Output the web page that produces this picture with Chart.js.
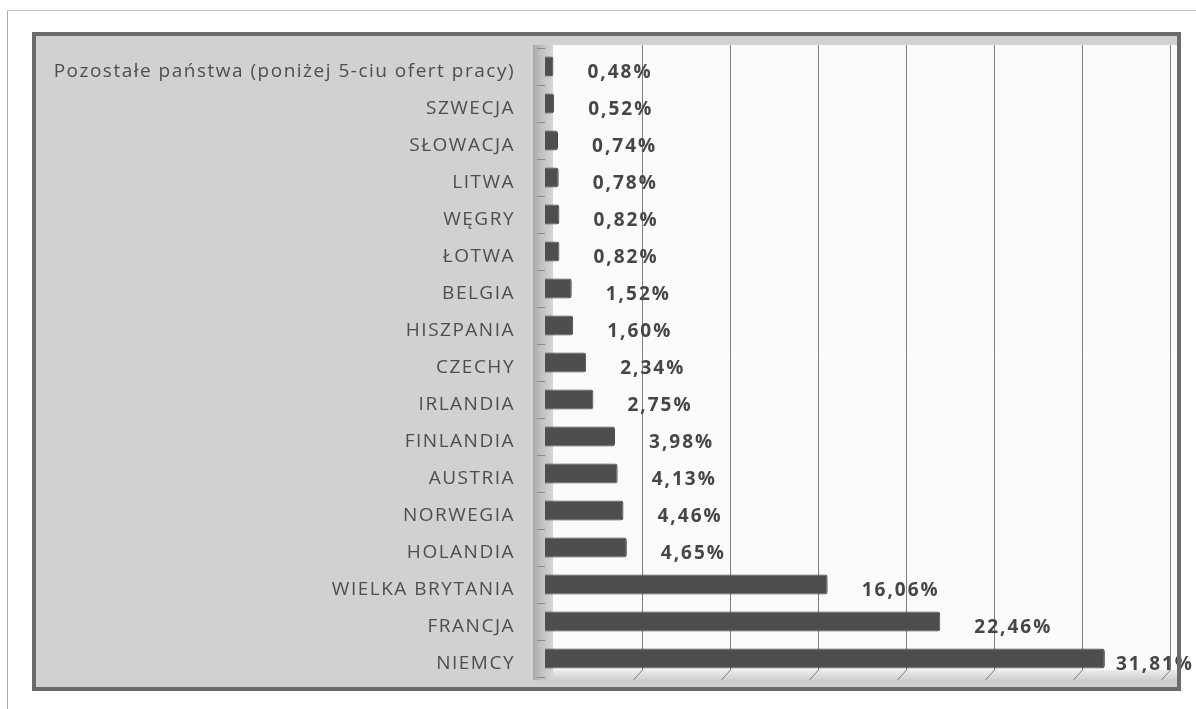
<!DOCTYPE html>
<html>
<head>
<meta charset="utf-8">
<script src="https://cdn.jsdelivr.net/npm/chart.js@4"></script>
<style>
    body { margin: 0; background: #fff; width: 1196px; height: 709px; overflow: hidden; position: relative; }
    #vline { position: absolute; left: 7px; top: 10px; width: 1px; height: 699px; background: #a8a8a8; }
    #hline { position: absolute; left: 7px; top: 10px; width: 1189px; height: 1px; background: #c4c4c4; }
    #wrap { position: absolute; left: 36px; top: 36px; width: 1160px; height: 651px; }
    #frame { position: absolute; left: 32px; top: 32px; width: 1141px; height: 651px; border: 4px solid #6b6b6b; pointer-events: none; }
</style>
</head>
<body>
<div id="vline"></div>
<div id="hline"></div>
<div id="wrap"><canvas id="chart"></canvas></div>
<div id="frame"></div>
<script>
// Data (top to bottom as in the picture)
const countries = [
    "Pozostałe państwa (poniżej 5-ciu ofert pracy)", "SZWECJA", "SŁOWACJA", "LITWA", "WĘGRY",
    "ŁOTWA", "BELGIA", "HISZPANIA", "CZECHY", "IRLANDIA", "FINLANDIA", "AUSTRIA",
    "NORWEGIA", "HOLANDIA", "WIELKA BRYTANIA", "FRANCJA", "NIEMCY"
];
const shares = [0.48, 0.52, 0.74, 0.78, 0.82, 0.82, 1.52, 1.60, 2.34, 2.75, 3.98, 4.13, 4.46, 4.65, 16.06, 22.46, 31.81];
const gridTicks = [5, 10, 15, 20, 25, 30, 35];

const FRAME_W = 1141; // inner width of the dark frame
const DEPTH = 9;      // fake 3D depth of the back wall

const fmt = v => v.toFixed(2).replace(".", ",") + "%";

// grey panel, white plot wall, floor, side wall and grid
const backdrop = {
    id: "backdrop",
    beforeDraw(c) {
        const ctx = c.ctx, xs = c.scales.x, a = c.chartArea;
        const top = a.top - 3, floor = a.bottom - 7;
        ctx.save();
        ctx.fillStyle = "#d1d1d1";
        ctx.fillRect(0, 0, FRAME_W, c.height);
        // white back wall
        ctx.fillStyle = "#fbfbfb";
        ctx.fillRect(a.left + 3, top, FRAME_W - a.left - 3, floor - top);
        // floor
        let g = ctx.createLinearGradient(0, floor, 0, floor + 12);
        g.addColorStop(0, "#ececec");
        g.addColorStop(1, "#c9c9c9");
        ctx.fillStyle = g;
        ctx.fillRect(a.left - 10, floor, FRAME_W - a.left + 10, 12);
        // side wall
        g = ctx.createLinearGradient(a.left - 12, 0, a.left + 8, 0);
        g.addColorStop(0, "#a9a9a9");
        g.addColorStop(0.35, "#bdbdbd");
        g.addColorStop(1, "#d6d6d6");
        ctx.fillStyle = g;
        ctx.fillRect(a.left - 12, top, 20, floor - top + 10);
        // grid lines on the back wall + floor ticks
        ctx.strokeStyle = "#7c7c7c";
        ctx.lineWidth = 1;
        gridTicks.forEach(v => {
            const x = Math.round(xs.getPixelForValue(v) + DEPTH) + 0.5;
            ctx.beginPath();
            ctx.moveTo(x, top);
            ctx.lineTo(x, floor);
            ctx.lineTo(x - DEPTH, floor + 10);
            ctx.stroke();
        });
        ctx.restore();
        ctx.letterSpacing = "1.5px";
    }
};

// value labels right of bars
const valueLabels = {
    id: "valueLabels",
    afterDatasetsDraw(c) {
        const ctx = c.ctx;
        ctx.save();
        ctx.letterSpacing = "2px";
        ctx.font = "bold 19px 'Open Sans'";
        ctx.fillStyle = "#464646";
        ctx.textAlign = "left";
        ctx.textBaseline = "middle";
        c.getDatasetMeta(0).data.forEach((bar, i) => {
            const x = Math.min(bar.x + 34, c.width - 80);
            ctx.fillText(fmt(shares[i]), x, bar.y + 6);
        });
        ctx.restore();
    }
};

new Chart(document.getElementById("chart"), {
    type: "bar",
    data: {
        labels: countries,
        datasets: [{
            data: shares,
            backgroundColor: "#4e4e4e",
            borderColor: "#444",
            borderWidth: 1,
            borderRadius: 3,
            borderSkipped: "start",
            categoryPercentage: 1,
            barPercentage: 0.54
        }]
    },
    options: {
        indexAxis: "y",
        responsive: true,
        maintainAspectRatio: false,
        animation: false,
        events: [],
        layout: { padding: { top: 12, bottom: 10, right: 35, left: 0 } },
        plugins: { legend: { display: false }, tooltip: { enabled: false } },
        scales: {
            x: { display: false, min: 0, max: 35 },
            y: {
                afterFit: s => { s.width = 509; s.paddingTop = 0; s.paddingBottom = 0; },
                border: { display: false },
                grid: { offset: true, drawOnChartArea: false, tickLength: 8, color: "#8a8a8a" },
                ticks: { font: { family: "Open Sans", size: 19 }, color: "#4e4e4e", padding: 22, labelOffset: 5, autoSkip: false }
            }
        }
    },
    plugins: [backdrop, valueLabels]
});
</script>
</body>
</html>
